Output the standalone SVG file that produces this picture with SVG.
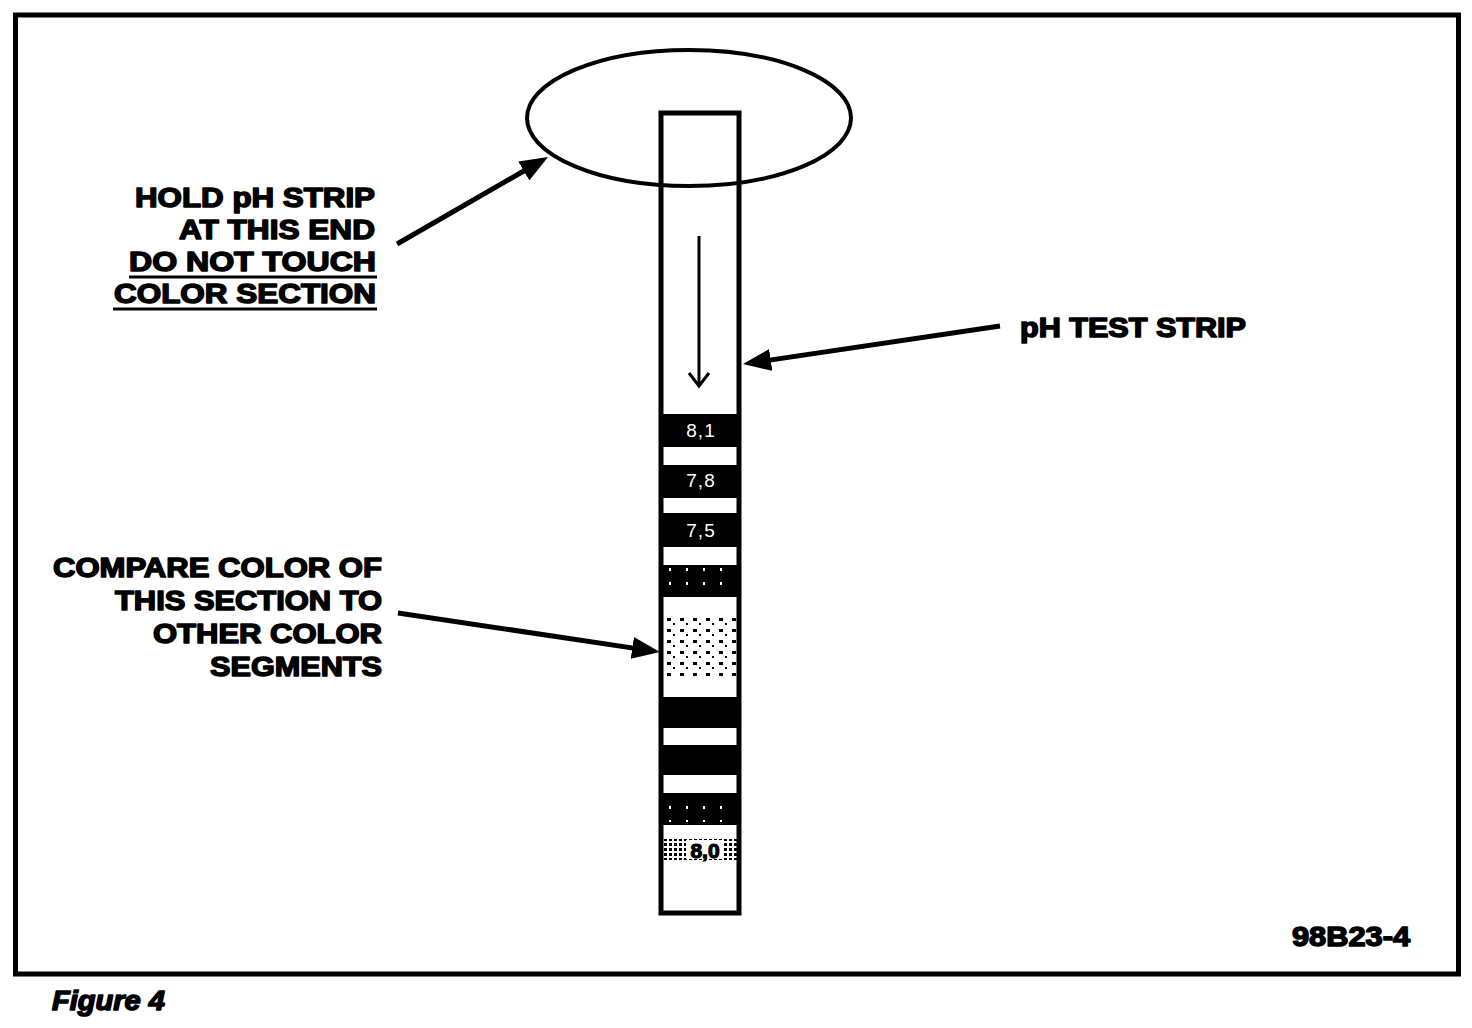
<svg xmlns="http://www.w3.org/2000/svg" width="1472" height="1028" viewBox="0 0 1472 1028">
<style>
.lbl{font-family:"Liberation Sans",Arial,sans-serif;font-weight:bold;font-size:27px;fill:#000;stroke:#000;stroke-width:1.5px;stroke-linejoin:round}
.num{font-family:"Liberation Sans",Arial,sans-serif;font-size:19px;fill:#fff;text-anchor:middle;letter-spacing:1px}
.band{fill:#000}
.conn{stroke:#000;stroke-width:5;fill:none;marker-end:url(#head)}
</style>
<defs>
<marker id="head" viewBox="0 0 28 22" refX="8" refY="11" markerWidth="28" markerHeight="22" markerUnits="userSpaceOnUse" orient="auto">
<path d="M0,0 L28,11 L0,22 Z" fill="#000"/>
</marker>
<pattern id="dots" x="665" y="616" width="13" height="11" patternUnits="userSpaceOnUse">
<rect x="2" y="2" width="4" height="3" fill="#000"/>
<rect x="8" y="7" width="2" height="2" fill="#000"/>
</pattern>
<pattern id="hatch" x="664" y="838" width="5" height="5" patternUnits="userSpaceOnUse">
<rect x="0" y="0" width="3" height="3" fill="#000"/>
</pattern>
<pattern id="specks" x="664" y="565" width="17" height="14" patternUnits="userSpaceOnUse">
<rect x="5" y="3" width="2" height="3" fill="#fff"/>
</pattern>
</defs>
<rect width="1472" height="1028" fill="#fff"/>
<g id="frame">
<rect x="15.5" y="15" width="1443" height="959" fill="none" stroke="#000" stroke-width="5"/>
</g>
<g id="strip">
<rect x="661" y="113" width="78" height="800" fill="#fff" stroke="#000" stroke-width="5"/>
<rect class="band" x="663" y="414" width="74" height="33"/>
<rect class="band" x="663" y="465" width="74" height="33"/>
<rect class="band" x="663" y="513" width="74" height="34"/>
<rect class="band" x="663" y="565" width="74" height="32"/>
<rect x="663" y="567" width="74" height="28" fill="url(#specks)"/>
<rect x="665" y="616" width="72" height="62" fill="url(#dots)"/>
<rect class="band" x="663" y="697" width="74" height="31"/>
<rect class="band" x="663" y="745" width="74" height="30"/>
<rect class="band" x="663" y="793" width="74" height="32"/>
<rect x="663" y="796" width="74" height="26" fill="url(#specks)"/>
<rect x="664" y="839" width="74" height="21" fill="url(#hatch)"/>
<rect x="686" y="840" width="38" height="19" fill="#fff"/>
<text class="num" x="701" y="437">8,1</text>
<text class="num" x="701" y="487">7,8</text>
<text class="num" x="701" y="537">7,5</text>
<text x="705" y="858" font-family="Liberation Sans, Arial, sans-serif" font-weight="bold" font-size="21" text-anchor="middle" fill="#000" stroke="#000" stroke-width="1.2">8,0</text>
<line x1="699" y1="236" x2="699" y2="384" stroke="#000" stroke-width="3"/>
<polyline points="689,373 699,386 709,373" fill="none" stroke="#000" stroke-width="3"/>
</g>
<g id="hold-zone">
<ellipse cx="689" cy="118" rx="162" ry="68" fill="none" stroke="#000" stroke-width="4"/>
</g>
<g id="label-hold">
<text class="lbl" x="135" y="207" textLength="240" lengthAdjust="spacingAndGlyphs">HOLD pH STRIP</text>
<text class="lbl" x="179" y="239" textLength="196" lengthAdjust="spacingAndGlyphs">AT THIS END</text>
<text class="lbl" x="129" y="271" textLength="247" lengthAdjust="spacingAndGlyphs">DO NOT TOUCH</text>
<text class="lbl" x="114" y="303" textLength="262" lengthAdjust="spacingAndGlyphs">COLOR SECTION</text>
<line x1="129" y1="277" x2="377" y2="277" stroke="#000" stroke-width="3"/>
<line x1="113" y1="309" x2="377" y2="309" stroke="#000" stroke-width="3"/>
</g>
<g id="label-compare">
<text class="lbl" x="53" y="577" textLength="329" lengthAdjust="spacingAndGlyphs">COMPARE COLOR OF</text>
<text class="lbl" x="115" y="610" textLength="267" lengthAdjust="spacingAndGlyphs">THIS SECTION TO</text>
<text class="lbl" x="153" y="643" textLength="229" lengthAdjust="spacingAndGlyphs">OTHER COLOR</text>
<text class="lbl" x="210" y="676" textLength="172" lengthAdjust="spacingAndGlyphs">SEGMENTS</text>
</g>
<g id="label-strip">
<text class="lbl" x="1020" y="337" textLength="226" lengthAdjust="spacingAndGlyphs">pH TEST STRIP</text>
</g>
<g id="label-code">
<text class="lbl" x="1292" y="946" textLength="118" lengthAdjust="spacingAndGlyphs">98B23-4</text>
</g>
<g id="caption">
<text class="lbl" x="52" y="1010" font-style="italic" textLength="113" lengthAdjust="spacingAndGlyphs">Figure 4</text>
</g>
<g id="connectors">
<line class="conn" x1="397" y1="244" x2="530.7" y2="167"/>
<line class="conn" x1="1000" y1="326" x2="762.8" y2="361.1"/>
<line class="conn" x1="398" y1="613" x2="640.2" y2="649.1"/>
</g>
</svg>
